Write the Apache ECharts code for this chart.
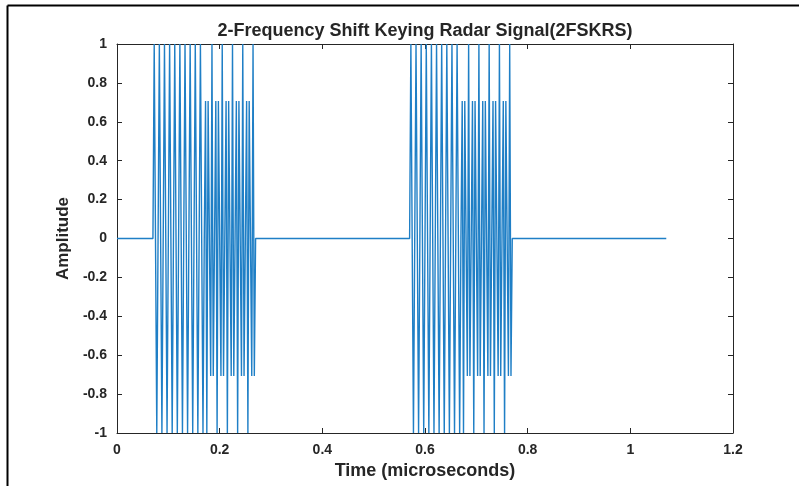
<!DOCTYPE html>
<html>
<head>
<meta charset="utf-8">
<script src="https://cdn.jsdelivr.net/npm/echarts@6/dist/echarts.min.js"></script>
<style>
  html, body { margin: 0; padding: 0; background: #fff; }
  #main { width: 799px; height: 486px; }
</style>
</head>
<body>
<div id="main"></div>
<script>
// sample values of one pulse (f1 part then f2 part)
var f1Samples = [
  0, 1, 0, -1, 0, 1, 0, -1, 0, 1, 0, -1, 0, 1, 0, -1, 0, 1, 0, -1,
  0, 1, 0, -1, 0, 1, 0, -1, 0, 1, 0, -1, 0, 1, 0, -1, 0, 1, 0, -1
];
var f2Samples = [
  0, 0.707, -1, 0.707, 0, -0.707, 1, -0.707,
  0, 0.707, -1, 0.707, 0, -0.707, 1, -0.707,
  0, 0.707, -1, 0.707, 0, -0.707, 1, -0.707,
  0, 0.707, -1, 0.707, 0, -0.707, 1, -0.707,
  0, 0.707, -1, 0.707, 0, -0.707, 1, -0.707
];
var pulseStarts = [0.07, 0.57];   // microseconds
var sampleStep = 0.0025;          // microseconds
var signalEnd = 1.07;
var xTicks = [0, 0.2, 0.4, 0.6, 0.8, 1, 1.2];
var yTicks = [-1, -0.8, -0.6, -0.4, -0.2, 0, 0.2, 0.4, 0.6, 0.8, 1];

var pulse = f1Samples.concat(f2Samples);
var data = [[0, 0]];
pulseStarts.forEach(function (t0) {
  pulse.forEach(function (v, i) {
    data.push([t0 + i * sampleStep, v]);
  });
  data.push([t0 + pulse.length * sampleStep, 0]);
});
data.push([signalEnd, 0]);

var txt = '#262626';
var font = '"Liberation Sans", Arial, sans-serif';
var axisCommon = {
  axisLine: { show: true, onZero: false, lineStyle: { color: '#262626', width: 1 } },
  axisTick: { show: true, inside: true, length: 5, lineStyle: { color: '#262626' } },
  splitLine: { show: false }
};

var myChart = echarts.init(document.getElementById('main'));
myChart.setOption({
  animation: false,
  backgroundColor: '#fff',
  grid: { left: 117, top: 44, width: 616, height: 389 },
  graphic: [
    { type: 'line', shape: { x1: 7.5, y1: 5.5, x2: 799, y2: 5.5 }, style: { stroke: '#000', lineWidth: 2 } },
    { type: 'line', shape: { x1: 7.5, y1: 5.5, x2: 7.5, y2: 486 }, style: { stroke: '#000', lineWidth: 2 } },
    {
      type: 'text', x: 425, y: 31,
      style: {
        text: '2-Frequency Shift Keying Radar Signal(2FSKRS)',
        font: 'bold 18px ' + font, fill: txt,
        textAlign: 'center', textVerticalAlign: 'middle'
      }
    }
  ],
  xAxis: [
    Object.assign({
      type: 'value', min: xTicks[0], max: xTicks[xTicks.length - 1], interval: 0.2,
      name: 'Time (microseconds)', nameLocation: 'middle', nameGap: 29,
      nameTextStyle: { color: txt, fontSize: 18, fontWeight: 'bold', fontFamily: font },
      axisLabel: { color: txt, fontSize: 14, fontWeight: 'bold', fontFamily: font, margin: 10 }
    }, axisCommon),
    Object.assign({
      type: 'value', position: 'top', min: xTicks[0], max: xTicks[xTicks.length - 1], interval: 0.2,
      axisLabel: { show: false }
    }, axisCommon)
  ],
  yAxis: [
    Object.assign({
      type: 'value', min: yTicks[0], max: yTicks[yTicks.length - 1], interval: 0.2,
      name: 'Amplitude', nameLocation: 'middle', nameGap: 42,
      nameTextStyle: { color: txt, fontSize: 17, fontWeight: 'bold', fontFamily: font },
      axisLabel: { color: txt, fontSize: 14, fontWeight: 'bold', fontFamily: font, margin: 10 }
    }, axisCommon),
    Object.assign({
      type: 'value', position: 'right', min: yTicks[0], max: yTicks[yTicks.length - 1], interval: 0.2,
      axisLabel: { show: false }
    }, axisCommon)
  ],
  series: [{
    type: 'line',
    data: data,
    showSymbol: false,
    symbol: 'none',
    sampling: null,
    lineStyle: { color: '#1f7fc6', width: 1.4 },
    itemStyle: { color: '#1f7fc6' }
  }]
});
</script>
</body>
</html>
